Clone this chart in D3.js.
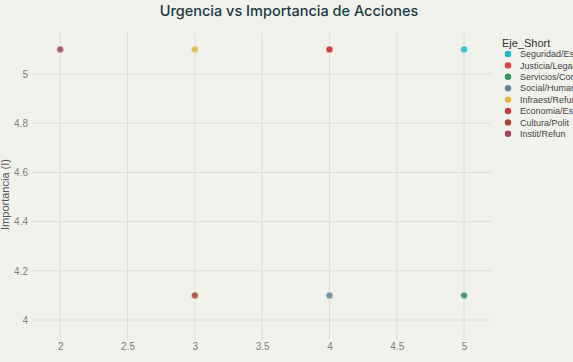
<!DOCTYPE html>
<html>
<head>
<meta charset="utf-8">
<script src="https://cdn.jsdelivr.net/npm/d3@7"></script>
<style>
  body { margin: 0; background: #f2f2ed; }
  svg { display: block; font-family: "Liberation Sans", Arial, sans-serif; }
</style>
</head>
<body>
<div id="chart"></div>
<script>
// data
var ejes = ['Seguridad/Est', 'Justicia/Legal', 'Servicios/Cont', 'Social/Human',
            'Infraest/Refun', 'Economia/Est', 'Cultura/Polit', 'Instit/Refun'];
var colores = ['#1ab9d0', '#e4403f', '#2e9457', '#5e8795', '#dfb83c', '#c73a3a', '#a3472a', '#a1445f'];
var urgencia = [5, 4, 5, 4, 3, 4, 3, 2];
var importancia = [5.1, 5.1, 4.1, 4.1, 5.1, 5.1, 4.1, 5.1];
var xTicks = [2, 2.5, 3, 3.5, 4, 4.5, 5];
var yTicks = [4, 4.2, 4.4, 4.6, 4.8, 5];

var W = 573, H = 362;
var mLeft = 32, mRight = 491, mTop = 33, mBottom = 340;

var svg = d3.select('#chart').append('svg')
  .attr('width', W).attr('height', H);

svg.append('rect').attr('width', W).attr('height', H).attr('fill', '#f2f2ed');

var x = d3.scaleLinear().domain([1.79, 5.2]).range([mLeft, mRight]);
var y = d3.scaleLinear().domain([3.9187, 5.1667]).range([mBottom, mTop]);

// grid
svg.append('g').selectAll('line').data(xTicks).enter().append('line')
  .attr('x1', function(d) { return x(d); }).attr('x2', function(d) { return x(d); })
  .attr('y1', mTop).attr('y2', mBottom)
  .attr('stroke', '#dfdfd9').attr('stroke-width', 1);
svg.append('g').selectAll('line').data(yTicks).enter().append('line')
  .attr('y1', function(d) { return y(d); }).attr('y2', function(d) { return y(d); })
  .attr('x1', mLeft).attr('x2', mRight)
  .attr('stroke', '#dfdfd9').attr('stroke-width', 1);

// axes (labels only)
var xAxis = svg.append('g').attr('transform', 'translate(0,' + mBottom + ')')
  .call(d3.axisBottom(x).tickValues(xTicks).tickSize(0).tickPadding(3).tickFormat(d3.format('~g')));
var yAxis = svg.append('g').attr('transform', 'translate(' + mLeft + ',0)')
  .call(d3.axisLeft(y).tickValues(yTicks).tickSize(0).tickPadding(4).tickFormat(d3.format('~g')));
[xAxis, yAxis].forEach(function(a) {
  a.select('.domain').remove();
  a.selectAll('text').attr('fill', '#808080').style('font-size', '10px')
    .style('font-family', '"Liberation Sans", Arial, sans-serif');
});

svg.append('text')
  .attr('transform', 'translate(5,' + ((mTop + mBottom) / 2 + 8) + ') rotate(-90)')
  .attr('text-anchor', 'middle').attr('dy', '0.35em')
  .attr('fill', '#555').style('font-size', '11px')
  .text('Importancia (I)');

// title
svg.append('text')
  .attr('x', 289).attr('y', 16)
  .attr('text-anchor', 'middle')
  .attr('fill', '#1b3944').style('font-size', '14.5px').style('font-weight', '500')
  .style('font-family', 'Inter, "Liberation Sans", sans-serif')
  .text('Urgencia vs Importancia de Acciones');

// points
var puntos = ejes.map(function(e, i) {
  return {eje: e, color: colores[i], u: urgencia[i], imp: importancia[i]};
});
svg.append('g').selectAll('circle').data(puntos).enter().append('circle')
  .attr('cx', function(d) { return x(d.u); })
  .attr('cy', function(d) { return y(d.imp); })
  .attr('r', 3.5)
  .attr('fill', function(d) { return d.color; })
  .attr('fill-opacity', 0.85)
  .attr('stroke', '#f2f2ed').attr('stroke-width', 0.6);

// legend
var leg = svg.append('g').attr('transform', 'translate(502,0)');
leg.append('text').attr('x', 0).attr('y', 47)
  .attr('fill', '#333').style('font-size', '11px').text('Eje_Short');
var item = leg.selectAll('.item').data(puntos).enter().append('g')
  .attr('transform', function(d, i) { return 'translate(0,' + (54 + i * 11.4) + ')'; });
item.append('circle').attr('cx', 6).attr('cy', 0).attr('r', 3.2)
  .attr('fill', function(d) { return d.color; });
item.append('text').attr('x', 18).attr('dy', '0.35em')
  .attr('fill', '#444').style('font-size', '9px')
  .text(function(d) { return d.eje; });
</script>
</body>
</html>
